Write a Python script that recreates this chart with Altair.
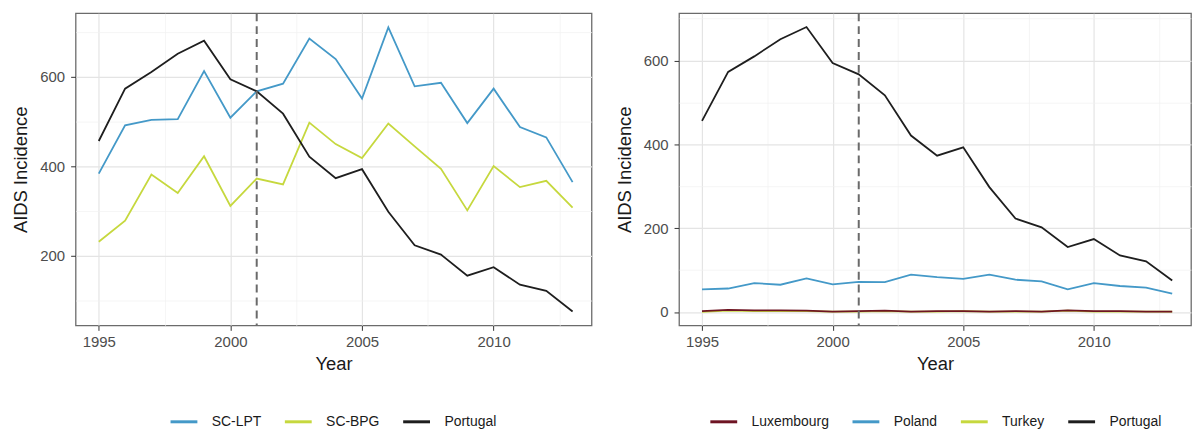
import altair as alt
import pandas as pd

years = list(range(1995, 2014))
intervention_year = 2001

# Left panel series
sc_lpt = [383, 491, 503, 505, 612, 508, 567, 584, 685, 639, 551, 710, 578, 586, 496, 573, 487, 464, 364]
sc_bpg = [231, 278, 381, 340, 422, 311, 372, 359, 497, 449, 418, 495, 444, 394, 301, 400, 353, 367, 307]
portugal = [456, 573, 610, 651, 680, 594, 567, 517, 421, 373, 393, 298, 223, 202, 155, 174, 135, 121, 75]

# Right panel series
luxembourg = [2, 5, 4, 4, 3, 1, 2, 3, 1, 2, 2, 1, 2, 1, 4, 2, 2, 1, 1]
poland = [54, 56, 69, 65, 80, 66, 72, 71, 89, 83, 79, 89, 77, 73, 54, 69, 62, 58, 44]
turkey = [0, 3, 2, 2, 2, 1, 1, 2, 1, 1, 2, 1, 1, 1, 3, 1, 1, 1, 1]

left_names = ["SC-LPT", "SC-BPG", "Portugal"]
left_colors = ["#4499C8", "#C6D83E", "#1E1E1E"]
right_names = ["Luxembourg", "Poland", "Turkey", "Portugal"]
right_colors = ["#6E1423", "#4499C8", "#C6D83E", "#1E1E1E"]

left_df = pd.concat([
    pd.DataFrame({"Year": years, "value": sc_lpt, "series": "SC-LPT"}),
    pd.DataFrame({"Year": years, "value": sc_bpg, "series": "SC-BPG"}),
    pd.DataFrame({"Year": years, "value": portugal, "series": "Portugal"}),
])
right_df = pd.concat([
    pd.DataFrame({"Year": years, "value": turkey, "series": "Turkey"}),
    pd.DataFrame({"Year": years, "value": luxembourg, "series": "Luxembourg"}),
    pd.DataFrame({"Year": years, "value": poland, "series": "Poland"}),
    pd.DataFrame({"Year": years, "value": portugal, "series": "Portugal"}),
])
rule_df = pd.DataFrame({"Year": [intervention_year]})

MAJOR = "#E4E4E4"
MINOR = "#F1F1F1"

x_axis = alt.Axis(
    title="Year",
    values=[1995, 1997.5, 2000, 2002.5, 2005, 2007.5, 2010, 2012.5],
    format="d",
    labelExpr="datum.value % 5 === 0 ? datum.label : ''",
    gridColor={"condition": {"test": "datum.value % 5 !== 0", "value": MINOR}, "value": MAJOR},
    gridWidth={"condition": {"test": "datum.value % 5 !== 0", "value": 0.7}, "value": 1.2},
    tickOpacity={"condition": {"test": "datum.value % 5 !== 0", "value": 0}, "value": 1},
    tickSize=5, labelPadding=4, titlePadding=5,
)


def y_axis():
    return alt.Axis(
        title="AIDS Incidence",
        values=[0, 100, 200, 300, 400, 500, 600, 700],
        labelExpr="datum.value % 200 === 0 ? datum.label : ''",
        gridColor={"condition": {"test": "datum.value % 200 !== 0", "value": MINOR}, "value": MAJOR},
        gridWidth={"condition": {"test": "datum.value % 200 !== 0", "value": 0.7}, "value": 1.2},
        tickOpacity={"condition": {"test": "datum.value % 200 !== 0", "value": 0}, "value": 1},
        tickSize=5, labelPadding=6, titlePadding=9, minExtent=36, maxExtent=36,
    )


x_dom = [1994.12, 2013.72]


def panel(df, names, colors, ydom, legend_x, width):
    lines = alt.Chart(df).mark_line(strokeWidth=1.8).encode(
        x=alt.X("Year:Q", scale=alt.Scale(domain=x_dom, nice=False, zero=False), axis=x_axis),
        y=alt.Y("value:Q", scale=alt.Scale(domain=ydom, nice=False, zero=False), axis=y_axis()),
        color=alt.Color(
            "series:N",
            scale=alt.Scale(domain=names, range=colors),
            legend=alt.Legend(
                title=None, orient="none", direction="horizontal",
                legendX=legend_x, legendY=396,
                symbolType="stroke", symbolSize=729, symbolStrokeWidth=3,
                labelFontSize=14, labelColor="#1a1a1a", labelOffset=13,
                columnPadding=17,
            ),
        ),
        detail="series:N",
    )
    rule = alt.Chart(rule_df).mark_rule(
        color="#6a6a6a", strokeWidth=2, strokeDash=[8, 5]
    ).encode(x="Year:Q")
    return alt.layer(lines, rule).properties(width=width, height=314)


left = panel(left_df, left_names, left_colors, [44, 741.5], 94, 519)
right = panel(right_df, right_names, right_colors, [-32, 713], 30, 515)

chart = alt.hconcat(left, right, spacing=22).resolve_scale(
    color="independent"
).properties(
    padding={"left": 3, "top": 2, "right": 0, "bottom": 0}
).configure(
    font="Liberation Sans"
).configure_view(
    stroke="#6b6b6b", strokeWidth=1.3
).configure_axis(
    domain=False,
    labelFontSize=15, labelColor="#4D4D4D",
    titleFontSize=18.5, titleFontWeight="normal", titleColor="#1a1a1a",
    tickColor="#333333",
)

chart.save("out.html", embed_options={"renderer": "svg", "actions": False})
